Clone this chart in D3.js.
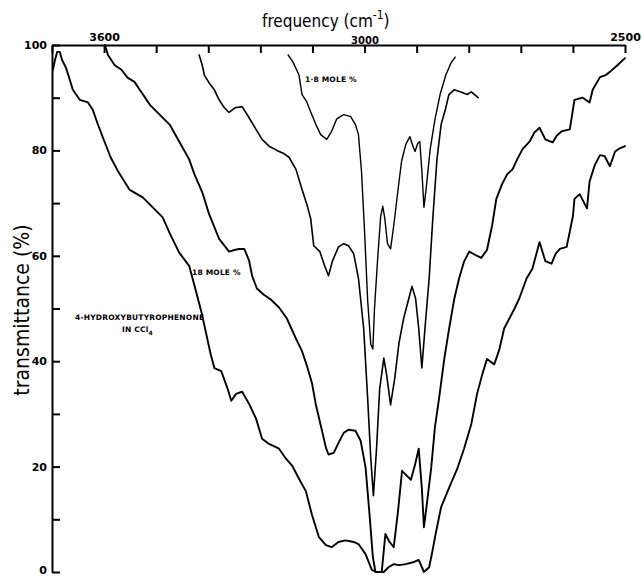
<!DOCTYPE html>
<html>
<head>
<meta charset="utf-8">
<script src="https://cdn.jsdelivr.net/npm/d3@7"></script>
<style>
  body { margin: 0; background: #fff; }
  svg { display: block; }
  .axis path, .axis line { stroke: #000; stroke-width: 2; }
  .axis text { font-family: "DejaVu Sans", sans-serif; font-weight: bold; font-size: 11px; fill: #000; }
  .curve { fill: none; stroke: #000; stroke-linejoin: round; stroke-linecap: round; }
  .note { font-family: "DejaVu Sans", sans-serif; font-weight: bold; font-size: 7.5px; letter-spacing: 0.2px; }
</style>
</head>
<body>
<div id="chart"></div>
<script>
// frequency (cm-1) vs transmittance (%)
var xTicks = [3720, 3600, 3480, 3360, 3240, 3120, 3000, 2900, 2800, 2700, 2600, 2500];
var xTickLabels = {3600: "3600", 3000: "3000", 2500: "2500"};
var yTicks = [0, 10, 20, 30, 40, 50, 60, 70, 80, 90, 100];

// neat / most concentrated trace (lowest)
var traceA = [
  [3718, 95.3], [3713, 97.2], [3708, 98.7], [3702, 98.7], [3697, 97.2], [3688, 95.7],
  [3679, 93.4], [3672, 91.5], [3656, 89.6], [3637, 89.1], [3626, 87.7], [3615, 85.1],
  [3603, 82.5], [3585, 78.7], [3569, 76.2], [3541, 72.5], [3511, 71.1], [3488, 69.2],
  [3465, 67.3], [3449, 64.3], [3427, 60.6], [3404, 58.1], [3388, 53.2], [3376, 49.4],
  [3365, 45.3], [3355, 41.5], [3346, 38.7], [3330, 38.1], [3316, 34.9], [3307, 32.5],
  [3296, 33.8], [3282, 34.2], [3266, 31.9], [3250, 29.1], [3236, 25.3], [3220, 24.3],
  [3197, 23.4], [3181, 21.5], [3167, 20.2], [3151, 17.7], [3135, 15.3], [3121, 10.8],
  [3105, 6.6], [3089, 5.1], [3076, 4.7], [3060, 5.7], [3044, 6.0], [3025, 5.7],
  [3014, 5.3], [2998, 3.4], [2986, 0.4], [2977, 0.0], [2963, 0.0], [2954, 0.9],
  [2944, 1.5], [2934, 1.3], [2921, 1.5], [2905, 1.9], [2896, 2.3], [2886, 0.0],
  [2876, 0.9], [2870, 3.8], [2863, 7.5], [2853, 12.3], [2838, 15.9], [2822, 19.6],
  [2809, 23.4], [2795, 28.1], [2784, 33.8], [2774, 37.5], [2765, 40.4], [2751, 39.4],
  [2741, 42.3], [2732, 46.2], [2722, 48.1], [2712, 50.0], [2703, 51.9], [2689, 55.7],
  [2678, 57.5], [2664, 62.6], [2653, 59.0], [2641, 58.5], [2633, 60.4], [2625, 61.3],
  [2612, 61.7], [2600, 67.5], [2597, 70.8], [2587, 71.7], [2573, 69.0], [2568, 74.1],
  [2558, 77.2], [2548, 79.1], [2539, 78.9], [2529, 77.0], [2519, 79.8], [2510, 80.4],
  [2500, 80.8]
];

// intermediate trace
var traceB = [
  [3598, 100.0], [3591, 98.1], [3576, 96.2], [3560, 95.3], [3546, 93.8], [3530, 93.0],
  [3518, 91.5], [3507, 90.2], [3495, 88.7], [3472, 86.8], [3449, 84.9], [3427, 81.7],
  [3404, 78.3], [3392, 75.5], [3374, 72.1], [3358, 67.9], [3335, 63.2], [3312, 60.8],
  [3300, 61.1], [3289, 61.3], [3277, 61.3], [3266, 59.1], [3259, 56.2], [3248, 53.8],
  [3232, 52.6], [3216, 51.7], [3197, 50.2], [3179, 48.1], [3158, 44.3], [3144, 41.9],
  [3133, 39.2], [3121, 35.8], [3112, 31.7], [3098, 26.8], [3089, 23.6], [3083, 22.3],
  [3071, 22.6], [3060, 24.5], [3048, 26.4], [3037, 27.0], [3021, 26.8], [3009, 24.9],
  [2998, 19.8], [2990, 10.4], [2984, 2.8], [2979, 0.0], [2967, 0.0], [2960, 7.2],
  [2952, 5.7], [2944, 4.7], [2936, 11.3], [2928, 19.2], [2919, 18.3], [2911, 17.5],
  [2903, 20.4], [2896, 23.4], [2890, 15.9], [2886, 8.5], [2880, 13.2], [2872, 19.8],
  [2865, 27.4], [2857, 32.9], [2847, 40.4], [2838, 46.0], [2828, 51.7], [2819, 55.5],
  [2809, 58.9], [2799, 60.8], [2788, 60.2], [2776, 59.6], [2765, 61.1], [2755, 65.8],
  [2747, 70.8], [2736, 73.6], [2726, 75.5], [2716, 76.4], [2707, 78.3], [2697, 80.2],
  [2683, 81.7], [2674, 83.4], [2664, 84.3], [2653, 82.1], [2639, 81.5], [2631, 82.8],
  [2622, 83.6], [2606, 84.0], [2597, 89.6], [2581, 90.0], [2568, 89.1], [2562, 91.5],
  [2548, 93.9], [2537, 94.3], [2529, 94.9], [2514, 96.2], [2500, 97.5]
];

// 18 mole % trace
var traceC = [
  [3381, 98.1], [3374, 96.2], [3369, 94.3], [3358, 92.8], [3346, 91.5], [3335, 89.6],
  [3323, 88.1], [3312, 87.2], [3298, 88.1], [3282, 88.3], [3266, 86.2], [3250, 84.0],
  [3236, 82.1], [3220, 80.8], [3202, 80.0], [3186, 79.4], [3174, 78.7], [3158, 76.4],
  [3144, 72.6], [3133, 69.8], [3124, 67.0], [3117, 61.9], [3103, 60.8], [3092, 58.1],
  [3083, 56.2], [3074, 59.0], [3060, 61.7], [3048, 62.3], [3037, 61.9], [3025, 60.4],
  [3014, 55.7], [3002, 46.2], [2994, 32.9], [2988, 21.5], [2983, 14.5], [2977, 23.4],
  [2971, 34.7], [2963, 40.6], [2958, 37.7], [2950, 31.7], [2942, 36.8], [2934, 43.4],
  [2925, 48.1], [2915, 51.9], [2909, 54.2], [2902, 51.9], [2896, 46.2], [2890, 38.7],
  [2884, 46.2], [2876, 55.7], [2869, 67.0], [2861, 78.3], [2853, 84.9], [2845, 87.7],
  [2838, 90.6], [2828, 91.5], [2815, 91.1], [2803, 90.6], [2795, 91.1], [2782, 90.0]
];

// 1.8 mole % trace
var traceD = [
  [3176, 98.1], [3165, 96.8], [3151, 94.3], [3144, 90.6], [3133, 89.2], [3124, 87.3],
  [3112, 84.9], [3101, 83.0], [3087, 82.1], [3076, 83.6], [3064, 86.0], [3048, 86.8],
  [3032, 86.4], [3021, 84.9], [3014, 83.0], [3007, 76.0], [3000, 64.7], [2994, 51.5],
  [2988, 43.2], [2984, 42.3], [2981, 49.8], [2975, 59.2], [2969, 67.5], [2965, 69.4],
  [2961, 67.0], [2956, 62.3], [2950, 61.3], [2944, 65.7], [2936, 72.3], [2929, 77.9],
  [2921, 81.1], [2913, 82.6], [2907, 80.8], [2903, 79.8], [2898, 81.3], [2894, 81.7],
  [2890, 76.2], [2886, 69.2], [2882, 72.5], [2874, 80.2], [2865, 85.8], [2855, 90.6],
  [2844, 94.3], [2834, 96.6], [2826, 97.7]
];

var width = 642, height = 578;
var margin = {left: 52, right: 17, top: 45, bottom: 6};
var plotRight = width - margin.right, plotBottom = height - margin.bottom;

var svg = d3.select("#chart").append("svg")
    .attr("width", width)
    .attr("height", height);

// the chart changes its cm-1 per division at 3000
var x = d3.scaleLinear()
    .domain([3720, 3000, 2500])
    .range([margin.left, margin.left + (plotRight - margin.left) * 6 / 11, plotRight]);

var y = d3.scaleLinear()
    .domain([0, 100])
    .range([plotBottom, margin.top]);

var xAxis = svg.append("g")
    .attr("class", "axis")
    .attr("transform", "translate(0," + margin.top + ")")
    .call(d3.axisTop(x)
        .tickValues(xTicks)
        .tickSizeInner(-8)
        .tickSizeOuter(0)
        .tickPadding(4)
        .tickFormat(function (d) { return xTickLabels[d] || ""; }));

// 3000 sits tucked under the title, right on the axis
xAxis.selectAll(".tick text")
    .filter(function (d) { return d === 3000; })
    .attr("y", -1)
    .style("font-size", "10px");

var yAxis = svg.append("g")
    .attr("class", "axis")
    .attr("transform", "translate(" + margin.left + ",0)")
    .call(d3.axisLeft(y)
        .tickValues(yTicks)
        .tickSizeInner(-8)
        .tickSizeOuter(0)
        .tickPadding(5)
        .tickFormat(function (d) { return d % 20 === 0 ? d : ""; }));

// keep the 0 inside the page
yAxis.selectAll(".tick text")
    .filter(function (d) { return d === 0; })
    .attr("dy", "0.1em");

var line = d3.line()
    .x(function (d) { return x(d[0]); })
    .y(function (d) { return y(d[1]); });

[[traceA, 1.9], [traceB, 1.9], [traceC, 1.6], [traceD, 1.4]].forEach(function (t) {
    svg.append("path")
        .datum(t[0])
        .attr("class", "curve")
        .attr("stroke-width", t[1])
        .attr("d", line);
});

// axis titles
var title = svg.append("text")
    .attr("x", 262)
    .attr("y", 27)
    .style("font-family", "'DejaVu Sans Condensed', sans-serif")
    .style("font-size", "17px");
title.append("tspan").text("frequency (cm");
title.append("tspan").attr("dy", -8).style("font-size", "12px").text("-1");
title.append("tspan").attr("dy", 8).text(")");

svg.append("text")
    .attr("transform", "translate(29,310) rotate(-90)")
    .attr("text-anchor", "middle")
    .style("font-family", "'DejaVu Sans Condensed', sans-serif")
    .style("font-size", "21px")
    .text("transmittance (%)");

// trace notes
svg.append("text").attr("class", "note").attr("x", 305).attr("y", 82).text("1·8 MOLE %");
svg.append("text").attr("class", "note").attr("x", 192).attr("y", 275).text("18 MOLE %");
svg.append("text").attr("class", "note").attr("x", 75).attr("y", 320).text("4-HYDROXYBUTYROPHENONE");
var ccl = svg.append("text").attr("class", "note").attr("x", 122).attr("y", 332);
ccl.append("tspan").text("IN  CCl");
ccl.append("tspan").attr("dy", 3).style("font-size", "6px").text("4");
</script>
</body>
</html>
